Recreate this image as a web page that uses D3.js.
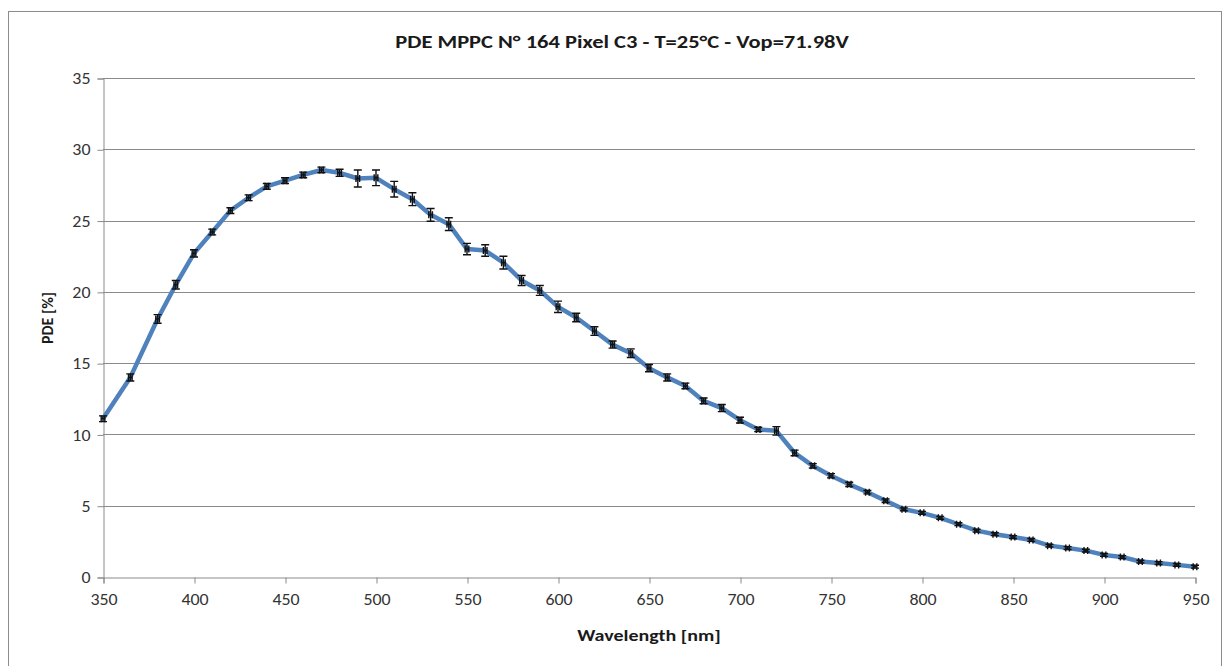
<!DOCTYPE html>
<html>
  <body style="margin:0;background:#fff">
    <style>
      text { font-family: Carlito, Lato, "Liberation Sans", sans-serif; fill: #1a1a1a; }
    </style>
    <script src="https://d3js.org/d3.v7.min.js"></script>
    <script type="text/javascript">
      const width = 1223;
      const height = 666;

      const wavelength = [350, 365, 380, 390, 400, 410, 420, 430, 440, 450, 460, 470, 480, 490, 500,
        510, 520, 530, 540, 550, 560, 570, 580, 590, 600, 610, 620, 630, 640, 650,
        660, 670, 680, 690, 700, 710, 720, 730, 740, 750, 760, 770, 780, 790, 800,
        810, 820, 830, 840, 850, 860, 870, 880, 890, 900, 910, 920, 930, 940, 950];
      const pde = [11.1, 14.0, 18.1, 20.5, 22.7, 24.2, 25.7, 26.6, 27.4, 27.8, 28.2, 28.55, 28.35, 27.95, 28.0,
        27.2, 26.5, 25.4, 24.75, 23.0, 22.9, 22.05, 20.8, 20.1, 18.95, 18.2, 17.25, 16.3, 15.7, 14.65,
        14.0, 13.4, 12.35, 11.85, 11.0, 10.35, 10.25, 8.7, 7.8, 7.1, 6.5, 5.95, 5.35, 4.75, 4.5,
        4.15, 3.7, 3.25, 3.0, 2.8, 2.6, 2.2, 2.03, 1.85, 1.55, 1.4, 1.08, 0.98, 0.85, 0.72];
      const pdeErr = [0.2, 0.25, 0.3, 0.3, 0.25, 0.2, 0.2, 0.2, 0.2, 0.2, 0.2, 0.2, 0.25, 0.6, 0.55,
        0.55, 0.45, 0.45, 0.45, 0.4, 0.4, 0.45, 0.35, 0.35, 0.4, 0.3, 0.3, 0.25, 0.3, 0.25,
        0.25, 0.2, 0.2, 0.25, 0.2, 0.15, 0.3, 0.2, 0.15, 0.15, 0.15, 0.12, 0.12, 0.1, 0.1,
        0.1, 0.1, 0.1, 0.1, 0.1, 0.1, 0.1, 0.1, 0.1, 0.1, 0.1, 0.1, 0.1, 0.1, 0.1];
      const wlErr = 1;
      const xTicks = [350, 400, 450, 500, 550, 600, 650, 700, 750, 800, 850, 900, 950];
      const yTicks = [0, 5, 10, 15, 20, 25, 30, 35];

      const data = wavelength.map((w, i) => ({ w: w, v: pde[i], e: pdeErr[i] }));

      const svg = d3.select('body')
        .append('svg')
        .attr('width', width)
        .attr('height', height);

      // chart border
      svg.append('rect')
        .attr('x', 8.5).attr('y', 11.5)
        .attr('width', 1213).attr('height', 670)
        .attr('fill', 'none')
        .attr('stroke', '#8c8c8c');

      const x = d3.scaleLinear().domain([350, 950]).range([103, 1195]);
      const y = d3.scaleLinear().domain([0, 35]).range([577, 78]);

      // gridlines
      svg.append('g')
        .selectAll('line')
        .data(yTicks.filter((d) => d > 0))
        .enter()
        .append('line')
        .attr('x1', x(350)).attr('x2', x(950))
        .attr('y1', (d) => Math.round(y(d)) + 0.5)
        .attr('y2', (d) => Math.round(y(d)) + 0.5)
        .attr('stroke', '#8a8a8a');

      const yAxis = svg.append('g')
        .attr('transform', `translate(${x(350) + 0.5},0.5)`)
        .call(d3.axisLeft(y).tickValues(yTicks).tickSize(6).tickPadding(7));
      const xAxis = svg.append('g')
        .attr('transform', `translate(0.5,${y(0) + 0.5})`)
        .call(d3.axisBottom(x).tickValues(xTicks).tickSize(6).tickPadding(8));
      [xAxis, yAxis].forEach((a) => {
        a.select('.domain').attr('stroke', '#8a8a8a');
        a.selectAll('.tick line').attr('stroke', '#8a8a8a');
        a.selectAll('.tick text').attr('font-size', 16).style('fill', '#333');
      });
      // the source picture is stretched sideways, so widen horizontal text a bit
      xAxis.selectAll('.tick text').attr('dy', '0.85em').attr('transform', 'scale(1.12,1)');
      yAxis.selectAll('.tick text').attr('x', -13 / 1.12).attr('transform', 'scale(1.12,1)');

      // curve
      svg.append('path')
        .datum(data)
        .attr('fill', 'none')
        .attr('stroke', '#4f81bd')
        .attr('stroke-width', 4.5)
        .attr('stroke-linejoin', 'round')
        .attr('d', d3.line().x((d) => x(d.w)).y((d) => y(d.v)));

      // error bars
      const eb = svg.append('g')
        .attr('stroke', '#111')
        .attr('stroke-width', 1.4)
        .selectAll('g')
        .data(data)
        .enter()
        .append('g');
      eb.append('line')
        .attr('x1', (d) => x(d.w)).attr('x2', (d) => x(d.w))
        .attr('y1', (d) => y(d.v - d.e)).attr('y2', (d) => y(d.v + d.e));
      eb.append('path')
        .attr('d', (d) => `M${x(d.w) - 4},${y(d.v - d.e)}h8M${x(d.w) - 4},${y(d.v + d.e)}h8`);
      eb.append('line')
        .attr('x1', (d) => x(d.w - wlErr)).attr('x2', (d) => x(d.w + wlErr))
        .attr('y1', (d) => y(d.v)).attr('y2', (d) => y(d.v));
      eb.append('path')
        .attr('d', (d) => `M${x(d.w - wlErr)},${y(d.v) - 3.5}v7M${x(d.w + wlErr)},${y(d.v) - 3.5}v7`);

      // titles
      svg.append('text')
        .attr('transform', 'translate(622,48) scale(1.25,1)')
        .attr('text-anchor', 'middle')
        .attr('font-size', 18)
        .attr('font-weight', 'bold')
        .text('PDE MPPC N° 164 Pixel  C3 - T=25°C - Vop=71.98V');
      svg.append('text')
        .attr('transform', 'translate(649,641) scale(1.25,1)')
        .attr('text-anchor', 'middle')
        .attr('font-size', 16)
        .attr('font-weight', 'bold')
        .text('Wavelength [nm]');
      svg.append('text')
        .attr('transform', 'translate(53,318) rotate(-90)')
        .attr('text-anchor', 'middle')
        .attr('font-size', 16)
        .attr('font-weight', 'bold')
        .text('PDE [%]');
    </script>
  </body>
</html>
